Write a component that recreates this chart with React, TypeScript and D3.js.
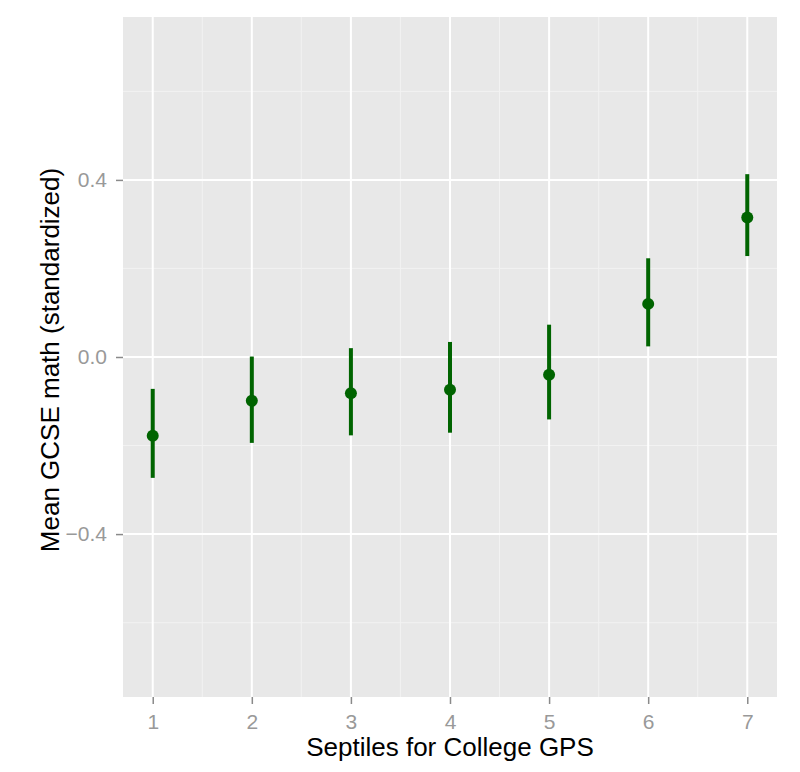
import { useRef, useEffect } from 'react';
import * as d3 from 'd3';

// septiles on x, mean and interval on y
const septiles = [1, 2, 3, 4, 5, 6, 7];
const means = [-0.178, -0.099, -0.082, -0.074, -0.040, 0.120, 0.315];
const lower = [-0.273, -0.194, -0.177, -0.171, -0.141, 0.024, 0.228];
const upper = [-0.072, 0.001, 0.020, 0.034, 0.073, 0.223, 0.413];
const yTicks = [-0.4, 0.0, 0.4];
const yMinor = [-0.6, -0.2, 0.2, 0.6];
const xMinor = [1.5, 2.5, 3.5, 4.5, 5.5, 6.5];

const FONT = 'Liberation Sans, Arial, Helvetica, sans-serif';

export default function App() {
  const svgRef = useRef<SVGSVGElement>(null);

  useEffect(() => {
    const W = 800;
    const H = 772;
    const margin = { top: 17, right: 23, bottom: 75, left: 123 };
    const width = W - margin.left - margin.right;
    const height = H - margin.top - margin.bottom;

    const svg = d3.select(svgRef.current)
      .html('')
      .attr('width', W)
      .attr('height', H);

    const g = svg.append('g')
      .attr('transform', `translate(${margin.left},${margin.top})`);

    const x = d3.scaleLinear().domain([0.7, 7.3]).range([0, width]);
    const y = d3.scaleLinear().domain([-0.768, 0.768]).range([height, 0]);

    // панель
    g.append('rect')
      .attr('width', width)
      .attr('height', height)
      .attr('fill', '#E8E8E8');

    // minor grid
    g.selectAll('.ymin').data(yMinor).enter().append('line')
      .attr('x1', 0).attr('x2', width)
      .attr('y1', d => y(d)).attr('y2', d => y(d))
      .attr('stroke', '#F2F2F2').attr('stroke-width', 1);
    g.selectAll('.xmin').data(xMinor).enter().append('line')
      .attr('y1', 0).attr('y2', height)
      .attr('x1', d => x(d)).attr('x2', d => x(d))
      .attr('stroke', '#F2F2F2').attr('stroke-width', 1);

    // major grid
    g.selectAll('.ymaj').data(yTicks).enter().append('line')
      .attr('x1', 0).attr('x2', width)
      .attr('y1', d => y(d)).attr('y2', d => y(d))
      .attr('stroke', '#fff').attr('stroke-width', 2);
    g.selectAll('.xmaj').data(septiles).enter().append('line')
      .attr('y1', 0).attr('y2', height)
      .attr('x1', d => x(d)).attr('x2', d => x(d))
      .attr('stroke', '#fff').attr('stroke-width', 2);

    // оси
    const yAxis = g.append('g')
      .call(d3.axisLeft(y).tickValues(yTicks).tickFormat(d3.format('.1f')).tickSize(7).tickPadding(9));
    const xAxis = g.append('g')
      .attr('transform', `translate(0,${height})`)
      .call(d3.axisBottom(x).tickValues(septiles).tickFormat(d3.format('d')).tickSize(7).tickPadding(10));

    [yAxis, xAxis].forEach(ax => {
      ax.select('.domain').remove();
      ax.selectAll('line').attr('stroke', '#8A8A8A').attr('stroke-width', 1.5);
      ax.selectAll('text')
        .attr('fill', '#999999')
        .attr('font-family', FONT)
        .attr('font-size', 21);
    });
    yAxis.selectAll('text').text((d: any) => d3.format('.1f')(d).replace('-', '\u2212'));

    const data = septiles.map((s, i) => ({ s, m: means[i], lo: lower[i], hi: upper[i] }));

    // интервалы
    g.selectAll('.err').data(data).enter().append('line')
      .attr('x1', d => x(d.s)).attr('x2', d => x(d.s))
      .attr('y1', d => y(d.lo)).attr('y2', d => y(d.hi))
      .attr('stroke', '#006400').attr('stroke-width', 4);

    // точки
    g.selectAll('.dot').data(data).enter().append('circle')
      .attr('cx', d => x(d.s))
      .attr('cy', d => y(d.m))
      .attr('r', 6)
      .attr('fill', '#006400');

    // подписи осей
    svg.append('text')
      .attr('x', margin.left + width / 2)
      .attr('y', 756)
      .attr('text-anchor', 'middle')
      .attr('font-family', FONT)
      .attr('font-size', 26)
      .attr('fill', '#000')
      .text('Septiles for College GPS');

    svg.append('text')
      .attr('transform', `translate(59,${margin.top + height / 2 + 3}) rotate(-90)`)
      .attr('text-anchor', 'middle')
      .attr('font-family', FONT)
      .attr('font-size', 26)
      .attr('fill', '#000')
      .text('Mean GCSE math (standardized)');
  }, []);

  return <svg ref={svgRef} style={{ display: 'block', position: 'absolute', left: 0, top: 0, background: '#fff' }} />;
}
